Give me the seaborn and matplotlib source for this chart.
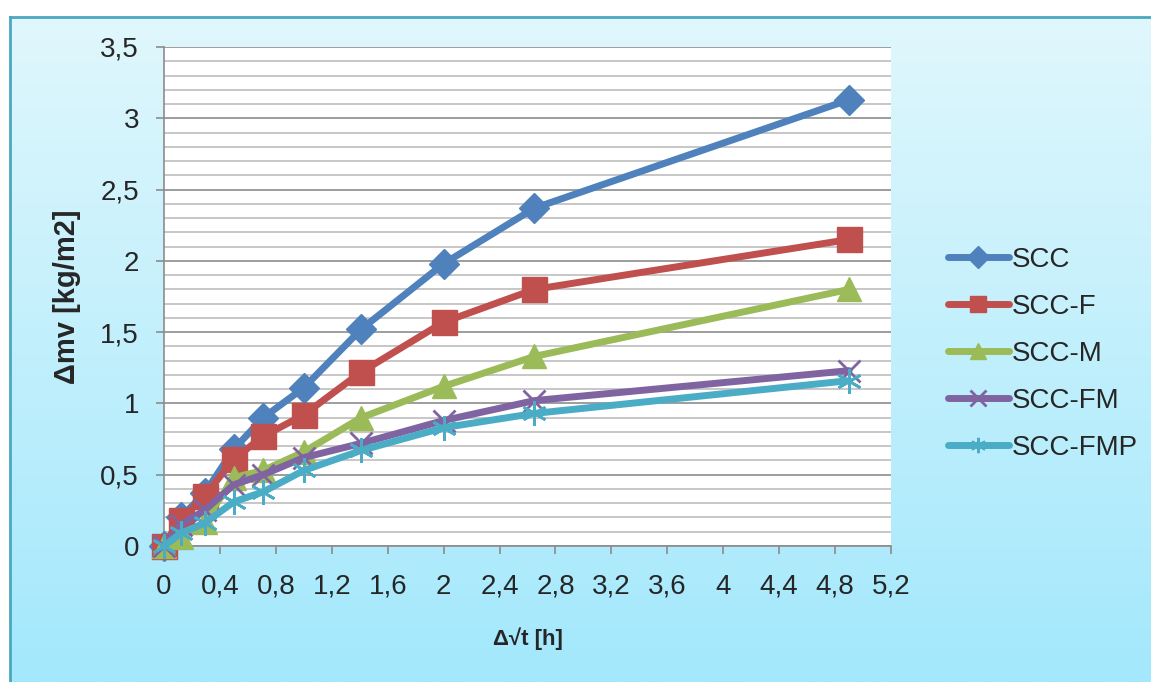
import numpy as np
import pandas as pd
import seaborn as sns
import matplotlib.pyplot as plt
from matplotlib.ticker import MultipleLocator, FuncFormatter

# vrijednosti ocitane s grafa
sqrt_t = [0, 0.12, 0.29, 0.5, 0.71, 1.0, 1.41, 2.0, 2.65, 4.9]
scc = [0, 0.2, 0.37, 0.68, 0.9, 1.11, 1.52, 1.98, 2.37, 3.13]
scc_f = [0, 0.18, 0.35, 0.61, 0.77, 0.92, 1.22, 1.57, 1.80, 2.15]
scc_m = [0, 0.06, 0.17, 0.48, 0.53, 0.66, 0.90, 1.12, 1.33, 1.80]
scc_fm = [0, 0.15, 0.25, 0.43, 0.50, 0.62, 0.72, 0.88, 1.02, 1.23]
scc_fmp = [0, 0.09, 0.16, 0.31, 0.38, 0.53, 0.67, 0.83, 0.93, 1.16]

names = ['SCC', 'SCC-F', 'SCC-M', 'SCC-FM', 'SCC-FMP']
series = [scc, scc_f, scc_m, scc_fm, scc_fmp]
colors = ['#4F81BD', '#C0504D', '#9BBB59', '#8064A2', '#4BACC6']
markers = ['D', 's', '^', 'x', (6, 2, 0)]
msizes = [15, 18, 17, 16, 18]

sns.set_style('white')
plt.rcParams['font.family'] = ['Liberation Sans', 'DejaVu Sans']

fig = plt.figure(figsize=(11.51, 6.82), dpi=100)
fig.patch.set_facecolor('white')

# pozadina s gradijentom
bg = fig.add_axes([10 / 1151, 0, 1, 1 - 17 / 682])
grad = np.linspace(0, 1, 256).reshape(-1, 1)
top = np.array([224, 247, 253]) / 255
bot = np.array([163, 232, 252]) / 255
img = top + (bot - top) * grad[:, :, None]
bg.imshow(img, aspect='auto', extent=[0, 1, 0, 1])
bg.set_xticks([])
bg.set_yticks([])
for side in ['right', 'bottom']:
    bg.spines[side].set_visible(False)
for side in ['left', 'top']:
    bg.spines[side].set_color('#4aa8c0')
    bg.spines[side].set_linewidth(2)

ax = fig.add_axes([164 / 1151, 1 - 546 / 682, (891 - 164) / 1151, (546 - 47) / 682])
ax.set_facecolor('white')

df = pd.DataFrame({'x': sqrt_t})
for name, vals, c, m, ms in zip(names, series, colors, markers, msizes):
    df[name] = vals
    sns.lineplot(data=df, x='x', y=name, ax=ax, color=c, lw=5, label=name,
                 marker=m, markersize=ms, markeredgecolor=c,
                 markeredgewidth=2 if m in ('x',) or isinstance(m, tuple) else 1,
                 solid_capstyle='round', solid_joinstyle='round', zorder=3,
                 clip_on=False)

ax.set_xlim(0, 5.2)
ax.set_ylim(0, 3.5)
ax.xaxis.set_major_locator(MultipleLocator(0.4))
ax.yaxis.set_major_locator(MultipleLocator(0.5))
ax.yaxis.set_minor_locator(MultipleLocator(0.1))
fmt = FuncFormatter(lambda v, p: ('%g' % round(v, 2)).replace('.', ','))
ax.xaxis.set_major_formatter(fmt)
ax.yaxis.set_major_formatter(fmt)

ax.grid(axis='y', which='major', color='#8c8c8c', lw=1.2, zorder=0)
ax.grid(axis='y', which='minor', color='#bdbdbd', lw=1.2, zorder=0)
ax.grid(axis='x', visible=False)
for side in ['top', 'right']:
    ax.spines[side].set_visible(False)
for side in ['left', 'bottom']:
    ax.spines[side].set_color('#8c8c8c')
    ax.spines[side].set_linewidth(1.2)

ax.tick_params(axis='both', which='major', labelsize=20, length=6, width=1.2,
               color='#8c8c8c', direction='out')
ax.tick_params(axis='y', which='major', pad=12, left=True)
ax.tick_params(axis='x', which='major', pad=14, bottom=True)
ax.tick_params(axis='y', which='minor', left=False)

ax.set_xlabel('Δ√t [h]', fontsize=16, fontweight='bold', labelpad=20)
ax.set_ylabel('Δmv [kg/m2]', fontsize=21, fontweight='bold', labelpad=14)

leg = ax.legend(loc='center left', bbox_to_anchor=(1.063, 0.385), frameon=False,
                fontsize=20, handlelength=2.2, handletextpad=0.1,
                labelspacing=0.75, borderaxespad=0)
for h in leg.legend_handles:
    h.set_markersize(11)

fig.savefig('out.png', dpi=100)
